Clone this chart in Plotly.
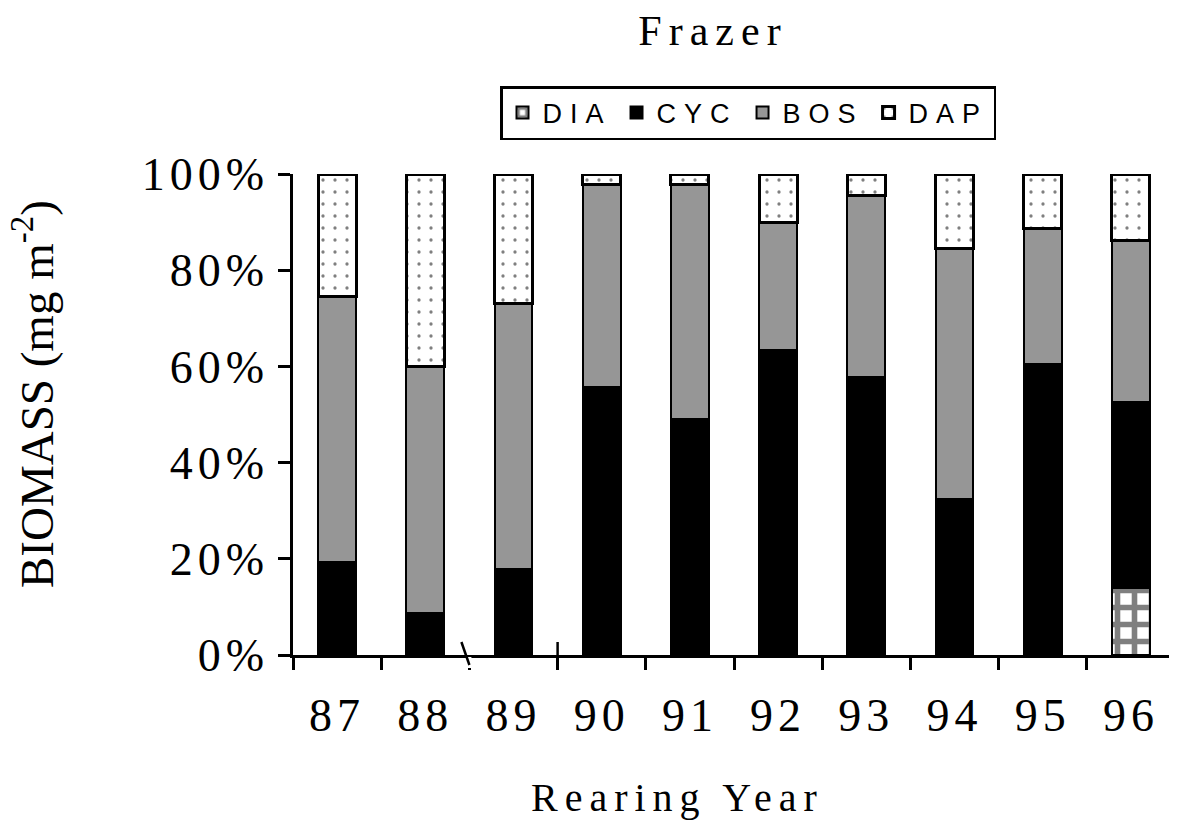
import plotly.graph_objects as go

years = ["87", "88", "89", "90", "91", "92", "93", "94", "95", "96"]
dia = [0, 0, 0, 0, 0, 0, 0, 0, 0, 13.9]
cyc = [19.4, 8.7, 17.8, 55.8, 49.0, 63.4, 57.7, 32.4, 60.4, 38.8]
bos = [55.1, 51.3, 55.3, 42.1, 48.9, 26.6, 37.9, 52.1, 28.3, 33.4]
dap = [25.5, 40.0, 26.9, 2.1, 2.1, 10.0, 4.4, 15.5, 11.3, 13.9]
ytick_vals = [0, 20, 40, 60, 80, 100]
ytick_text = ["0%", "20%", "40%", "60%", "80%", "100%"]

SERIF = "Liberation Serif"
SANS = "Liberation Sans"

# the page body has an 8px margin; shift everything by it
OFF = 8
W, H = 1177 - OFF, 823 - OFF


def spaced(s, px):
    return f'<span style="letter-spacing:{px}px">{s}</span>'


fig = go.Figure()
BW = 0.43
LW = 2
fig.add_bar(x=years, y=dia, name=spaced("DIA", 8), width=BW,
            marker=dict(color="white", line=dict(color="black", width=LW),
                        pattern=dict(shape="+", fgcolor="black", bgcolor="white",
                                     size=17, solidity=0.55)))
fig.add_bar(x=years, y=cyc, name=spaced("CYC", 8), width=BW,
            marker=dict(color="black", line=dict(color="black", width=LW)))
fig.add_bar(x=years, y=bos, name=spaced("BOS", 8), width=BW,
            marker=dict(color="#969696", line=dict(color="black", width=LW)))
fig.add_bar(x=years, y=dap, name=spaced("DAP", 8), width=BW,
            marker=dict(color="white", line=dict(color="black", width=3),
                        pattern=dict(shape=".", fgcolor="black", bgcolor="white",
                                     size=12, solidity=0.06)))

# reference pixel geometry of the plot area
PL, PR, PT, PB = 293, 1175, 174, 655
L = PL - OFF
R = W - (PR - OFF)
T = PT - OFF
B = H - (PB - OFF)
plot_w = PR - PL
plot_h = PB - PT


def px_x(p):
    return (p - PL) / plot_w


def px_y(p):
    return (PB - p) / plot_h


fig.update_layout(
    width=W, height=H,
    barmode="stack",
    paper_bgcolor="white", plot_bgcolor="white",
    margin=dict(l=L, r=R, t=T, b=B, autoexpand=False),
    showlegend=True,
    legend=dict(orientation="h", x=px_x(748), xanchor="center", y=px_y(113), yanchor="middle",
                bgcolor="white", bordercolor="black", borderwidth=2.5,
                font=dict(family=SANS, size=27, color="black"),
                traceorder="normal", itemwidth=30, tracegroupgap=0),
    title=dict(text=spaced("Frazer", 7), x=(713 - OFF) / W, xref="container", xanchor="center",
               y=1 - (30 - OFF) / H, yref="container", yanchor="middle",
               font=dict(family=SERIF, size=42, color="black")),
    xaxis=dict(type="category", range=[-0.5, 9.5], tickson="boundaries",
               ticks="outside", ticklen=12, tickwidth=2.5, tickcolor="black",
               showline=True, linewidth=2.5, linecolor="black",
               showgrid=False, zeroline=False,
               tickvals=years, ticktext=[spaced(y, 5) for y in years],
               ticklabelstandoff=18,
               tickfont=dict(family=SERIF, size=46, color="black")),
    yaxis=dict(range=[0, 100], tickvals=ytick_vals,
               ticktext=[spaced(t, 5) for t in ytick_text],
               ticks="outside", ticklen=12, tickwidth=2.5, tickcolor="black",
               showline=True, linewidth=2.5, linecolor="black",
               showgrid=False, zeroline=False,
               ticklabelstandoff=0,
               tickfont=dict(family=SERIF, size=46, color="black")),
)

fig.add_annotation(text=spaced("Rearing Year", 7), xref="paper", yref="paper",
                   x=px_x(677), y=px_y(797), xanchor="center", yanchor="middle",
                   showarrow=False, font=dict(family=SERIF, size=40, color="black"))
fig.add_annotation(text="BIOMASS (mg m<sup>-2</sup>)", xref="paper", yref="paper",
                   x=px_x(33), y=px_y(394), xanchor="center", yanchor="middle",
                   textangle=-90, showarrow=False,
                   font=dict(family=SERIF, size=47, color="black"))

# axis break marks (boundary between 88 and 89, and extended tick between 89 and 90)
n = len(years)
b1 = 2 / n
b2 = 3 / n
fig.add_shape(type="line", xref="paper", yref="paper", x0=b1, x1=b1,
              y0=px_y(657), y1=px_y(668), line=dict(color="white", width=4))
fig.add_shape(type="line", xref="paper", yref="paper", x0=b1 - 8 / plot_w, x1=b1,
              y0=px_y(642), y1=px_y(665), line=dict(color="black", width=2.5))
fig.add_shape(type="line", xref="paper", yref="paper", x0=b2, x1=b2,
              y0=px_y(642), y1=px_y(655), line=dict(color="black", width=2.5))

fig.write_html("out.html")
